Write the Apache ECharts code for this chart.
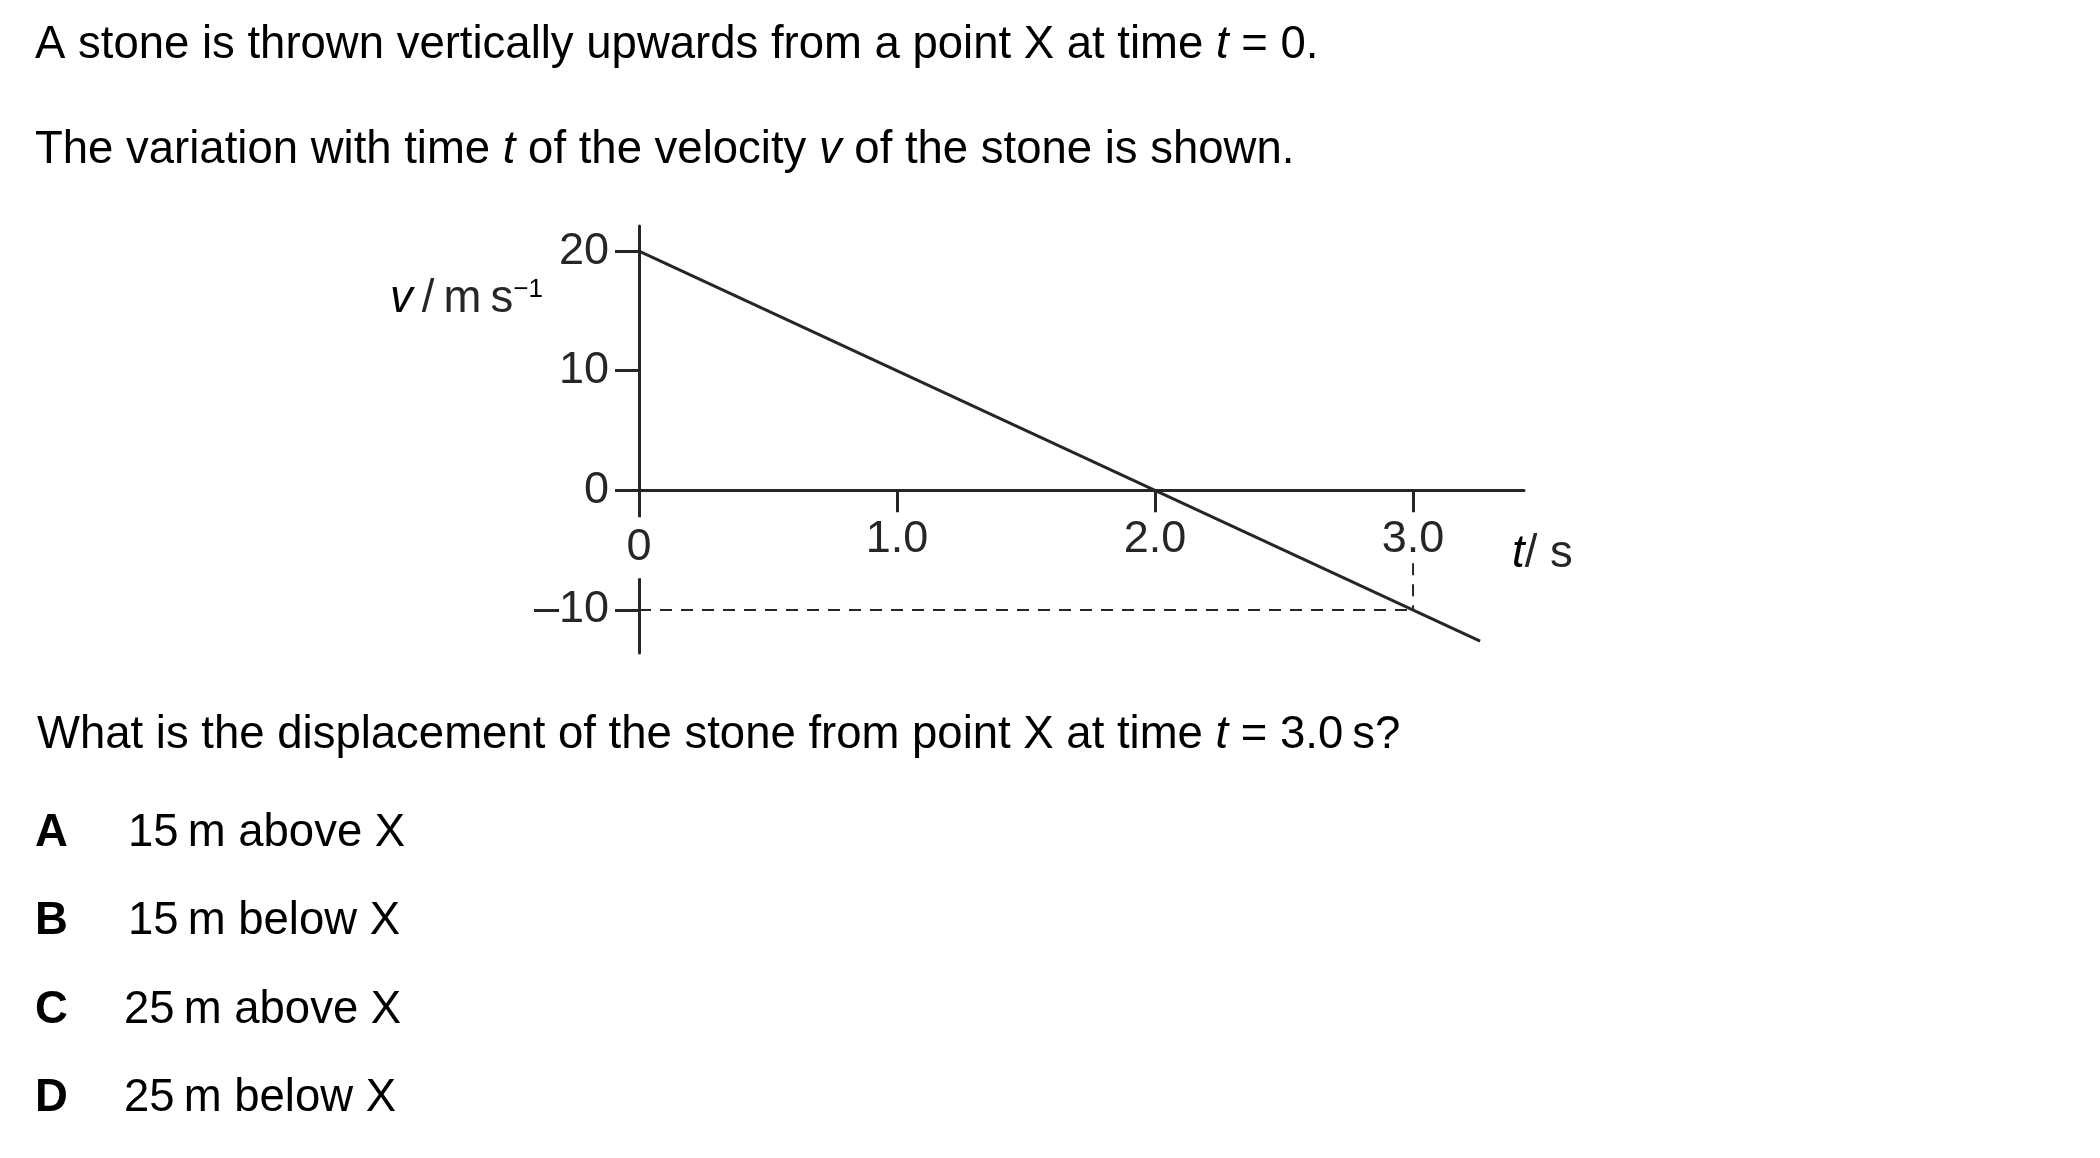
<!DOCTYPE html>
<html>
<head>
<meta charset="utf-8">
<script src="https://cdn.jsdelivr.net/npm/echarts@6/dist/echarts.min.js"></script>
<style>
html,body{margin:0;padding:0;background:#fff;}
#c{width:2100px;height:1158px;}
</style>
</head>
<body>
<div id="c"></div>
<script>
// ---- data ----
var lineT = [0, 3.26];
var lineV = [20, -12.6];
var dashHT = [0, 3];
var dashHV = [-10, -10];
var dashVT = [3, 3];
var dashVV = [-6.1, -10];
var xTicks = [0, 1, 2, 3];
var xTickLabels = ['0', '1.0', '2.0', '3.0'];
var yTicks = [-10, 0, 10, 20];
var yTickLabels = ['\u201310', '0', '10', '20'];
var options = [
  ['A', '15\u2009m above X'],
  ['B', '15\u2009m below X'],
  ['C', '25\u2009m above X'],
  ['D', '25\u2009m below X']
];

var FF = '"Liberation Sans", Arial, sans-serif';
var FS = 45.5;
var AFS = 45;
var INK = '#000';
var CH = '#262626';

var X_MIN = 0, X_MAX = 3.43, Y_MIN = -13.6, Y_MAX = 22.1;
var GRID = { left: 639, top: 226, width: 885, height: 427 };
var xAxisOffset = -(0 - Y_MIN) / (Y_MAX - Y_MIN) * GRID.height;

function pairs(a, b) { return a.map(function (v, i) { return [v, b[i]]; }); }

function txt(x, baseline, text, extra) {
  var st = {
    text: text,
    x: 0, y: 0,
    fontFamily: FF, fontSize: FS, fill: INK,
    textVerticalAlign: 'middle',
    lineHeight: FS,
    rich: {
      i: { fontFamily: FF, fontSize: FS, fontStyle: 'italic', fill: INK, lineHeight: FS },
      b: { fontFamily: FF, fontSize: FS, fontWeight: 'bold', fill: INK, lineHeight: FS },
      sup: { fontFamily: FF, fontSize: 26, fill: INK, verticalAlign: 'top' }
    }
  };
  if (extra) for (var k in extra) st[k] = extra[k];
  return { type: 'text', x: x, y: baseline + 4 - 0.3465 * FS, style: st, z: 10 };
}

var graphics = [
  txt(35, 57, 'A stone is thrown vertically upwards from a point X at time {i|t} = 0.'),
  txt(35, 162, 'The variation with time {i|t} of the velocity {i|v} of the stone is shown.'),
  txt(37, 747, 'What is the displacement of the stone from point X at time {i|t} = 3.0\u2009s?'),
  txt(390, 311, '{i|v}\u2009/\u2009m\u2009s{sup|\u22121}', { fill: CH }),
  txt(1512, 566, '{i|t}/ s', { fill: CH })
];
var optBase = [845, 933, 1022, 1110];
options.forEach(function (o, i) {
  graphics.push(txt(35, optBase[i], '{b|' + o[0] + '}'));
  graphics.push(txt(i < 2 ? 128 : 124, optBase[i], o[1]));
});

var chart = echarts.init(document.getElementById('c'), null, { renderer: 'canvas' });
chart.setOption({
  animation: false,
  backgroundColor: '#fff',
  grid: { left: GRID.left, top: GRID.top, width: GRID.width, height: GRID.height, containLabel: false },
  xAxis: {
    type: 'value', min: X_MIN, max: X_MAX, z: 5,
    position: 'bottom', offset: xAxisOffset,
    axisLine: { show: true, onZero: false, lineStyle: { color: CH, width: 3 } },
    axisTick: { show: true, length: 22, customValues: xTicks, lineStyle: { color: CH, width: 3 } },
    splitLine: { show: false },
    axisLabel: {
      customValues: xTicks, margin: 27,
      fontFamily: FF, fontSize: AFS, color: CH,
      formatter: function (v) {
        var i = xTicks.indexOf(v);
        var s = i >= 0 ? xTickLabels[i] : '';
        return v === 0 ? '{w|' + s + '}' : s;
      },
      rich: { w: { fontFamily: FF, fontSize: AFS, color: CH, backgroundColor: '#fff', padding: [8, 3, 8, 3] } }
    }
  },
  yAxis: {
    type: 'value', min: Y_MIN, max: Y_MAX, z: 2,
    axisLine: { show: true, onZero: false, lineStyle: { color: CH, width: 3 } },
    axisTick: { show: true, length: 24, customValues: yTicks, lineStyle: { color: CH, width: 3 } },
    splitLine: { show: false },
    axisLabel: {
      customValues: yTicks, margin: 30,
      fontFamily: FF, fontSize: AFS, color: CH,
      formatter: function (v) {
        var i = yTicks.indexOf(v);
        return i >= 0 ? yTickLabels[i] : '';
      }
    }
  },
  graphic: graphics,
  series: [
    { type: 'line', data: pairs(lineT, lineV), symbol: 'none', z: 6,
      lineStyle: { color: CH, width: 3 } },
    { type: 'line', data: pairs(dashHT, dashHV), symbol: 'none', z: 4,
      lineStyle: { color: CH, width: 2, type: [12, 9] } },
    { type: 'line', data: pairs(dashVT, dashVV), symbol: 'none', z: 4,
      lineStyle: { color: CH, width: 2, type: [12, 9] } }
  ]
});
</script>
</body>
</html>
